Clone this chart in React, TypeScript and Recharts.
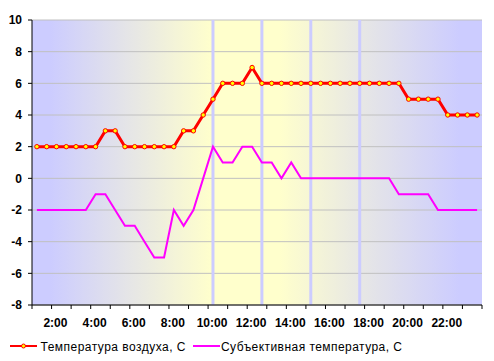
import React from 'react';
import { LineChart, Line, XAxis, YAxis, CartesianGrid, ReferenceLine, Legend } from 'recharts';

const times = [
  '1:00', '1:30', '2:00', '2:30', '3:00', '3:30', '4:00', '4:30', '5:00', '5:30',
  '6:00', '6:30', '7:00', '7:30', '8:00', '8:30', '9:00', '9:30', '10:00', '10:30',
  '11:00', '11:30', '12:00', '12:30', '13:00', '13:30', '14:00', '14:30', '15:00', '15:30',
  '16:00', '16:30', '17:00', '17:30', '18:00', '18:30', '19:00', '19:30', '20:00', '20:30',
  '21:00', '21:30', '22:00', '22:30', '23:00', '23:30',
];

const airTemp = [
  2, 2, 2, 2, 2, 2, 2, 3, 3, 2,
  2, 2, 2, 2, 2, 3, 3, 4, 5, 6,
  6, 6, 7, 6, 6, 6, 6, 6, 6, 6,
  6, 6, 6, 6, 6, 6, 6, 6, 5, 5,
  5, 5, 4, 4, 4, 4,
];

const feelTemp = [
  -2, -2, -2, -2, -2, -2, -1, -1, -2, -3,
  -3, -4, -5, -5, -2, -3, -2, 0, 2, 1,
  1, 2, 2, 1, 1, 0, 1, 0, 0, 0,
  0, 0, 0, 0, 0, 0, 0, -1, -1, -1,
  -1, -2, -2, -2, -2, -2,
];

const yTicks = [-8, -6, -4, -2, 0, 2, 4, 6, 8, 10];
const markerTimes = ['10:00', '12:30', '15:00', '17:30'];

const seriesNames = ['Температура воздуха, C', 'Субъективная температура, С'];

const data = times.map((t, i) => ({ t, air: airTemp[i], feel: feelTemp[i] }));

const FONT = '"Liberation Sans", Arial, sans-serif';
const PLOT_W = 450;
const BW = PLOT_W / times.length;

const XTick = (props: any) => {
  const { x, y, payload } = props;
  const i = payload && payload.index != null ? payload.index : props.index;
  const els: any[] = [];
  if (i % 2 === 0) {
    els.push(<line key="l" x1={x - BW / 2} x2={x - BW / 2} y1={y} y2={y + 4} stroke="#000" />);
  }
  if (i === times.length - 1) {
    els.push(<line key="r" x1={x + BW / 2} x2={x + BW / 2} y1={y} y2={y + 4} stroke="#000" />);
  }
  if ((i - 2) % 4 === 0) {
    els.push(
      <text key="t" x={x - 1} y={y + 22} textAnchor="middle" fontFamily={FONT} fontSize={12} fontWeight="bold" fill="#000">
        {payload.value}
      </text>
    );
  }
  return <g>{els}</g>;
};

const LegendContent = () => (
  <svg width={494} height={26} style={{ display: 'block' }}>
    <line x1={10} x2={37} y1={11} y2={11} stroke="#FF0000" strokeWidth={2} />
    <circle cx={23.5} cy={11} r={2} fill="#FFFF00" stroke="#FF0000" strokeWidth={1} />
    <text x={40.5} y={15.7} fontFamily={FONT} fontSize={12} fill="#000" textLength={145} lengthAdjust="spacing">
      {seriesNames[0]}
    </text>
    <line x1={193} x2={220} y1={11} y2={11} stroke="#FF00FF" strokeWidth={2} />
    <text x={221} y={15.7} fontFamily={FONT} fontSize={12} fill="#000" textLength={181} lengthAdjust="spacing">
      {seriesNames[1]}
    </text>
  </svg>
);

export default function App() {
  return (
    <div style={{ position: 'absolute', left: 0, top: 0, width: 494, height: 361, background: '#fff' }}>
      <LineChart width={494} height={361} data={data} margin={{ top: 20, right: 12, left: 0, bottom: 0 }}>
        <defs>
          <linearGradient id="bgGrad" x1="0" y1="0" x2="1" y2="0">
            <stop offset="0" stopColor="#CCCCFF" />
            <stop offset="0.04" stopColor="#CCCCFF" />
            <stop offset="0.22" stopColor="#E6E6E6" />
            <stop offset="0.4" stopColor="#FFFFCC" />
            <stop offset="0.55" stopColor="#FFFFCC" />
            <stop offset="0.74" stopColor="#E6E6E6" />
            <stop offset="0.95" stopColor="#CCCCFF" />
            <stop offset="1" stopColor="#CCCCFF" />
          </linearGradient>
        </defs>
        <CartesianGrid vertical={false} stroke="#C0C0C0" fill="url(#bgGrad)" fillOpacity={1} />
        <XAxis
          dataKey="t"
          interval={0}
          height={30}
          tickSize={0}
          tickMargin={0}
          tickLine={false}
          axisLine={{ stroke: '#000' }}
          padding={{ left: BW / 2, right: BW / 2 }}
          tick={<XTick />}
        />
        <XAxis
          xAxisId="top"
          dataKey="t"
          orientation="top"
          height={0}
          tick={false}
          tickLine={false}
          axisLine={{ stroke: '#000' }}
        />
        <YAxis
          domain={[-8, 10]}
          ticks={yTicks}
          interval={0}
          width={32}
          tickSize={4}
          tickMargin={6}
          axisLine={{ stroke: '#000' }}
          tickLine={{ stroke: '#000' }}
          tick={{ fill: '#000', fontSize: 12, fontWeight: 'bold', fontFamily: FONT }}
        />
        <YAxis
          yAxisId="right"
          orientation="right"
          width={0}
          tick={false}
          tickLine={false}
          axisLine={{ stroke: '#000' }}
        />
        {markerTimes.map((m) => (
          <ReferenceLine key={m} x={m} stroke="#CCCCFF" strokeWidth={3} />
        ))}
        <Line
          type="linear"
          dataKey="feel"
          name={seriesNames[1]}
          stroke="#FF00FF"
          strokeWidth={2}
          dot={false}
          isAnimationActive={false}
        />
        <Line
          type="linear"
          dataKey="air"
          name={seriesNames[0]}
          stroke="#FF0000"
          strokeWidth={3}
          dot={{ r: 2.2, fill: '#FFFF00', stroke: '#FF0000', strokeWidth: 1 }}
          isAnimationActive={false}
        />
        <Legend
          verticalAlign="bottom"
          height={26}
          content={<LegendContent />}
          wrapperStyle={{ left: 0, width: 494, bottom: 0, height: 26 }}
        />
      </LineChart>
    </div>
  );
}
